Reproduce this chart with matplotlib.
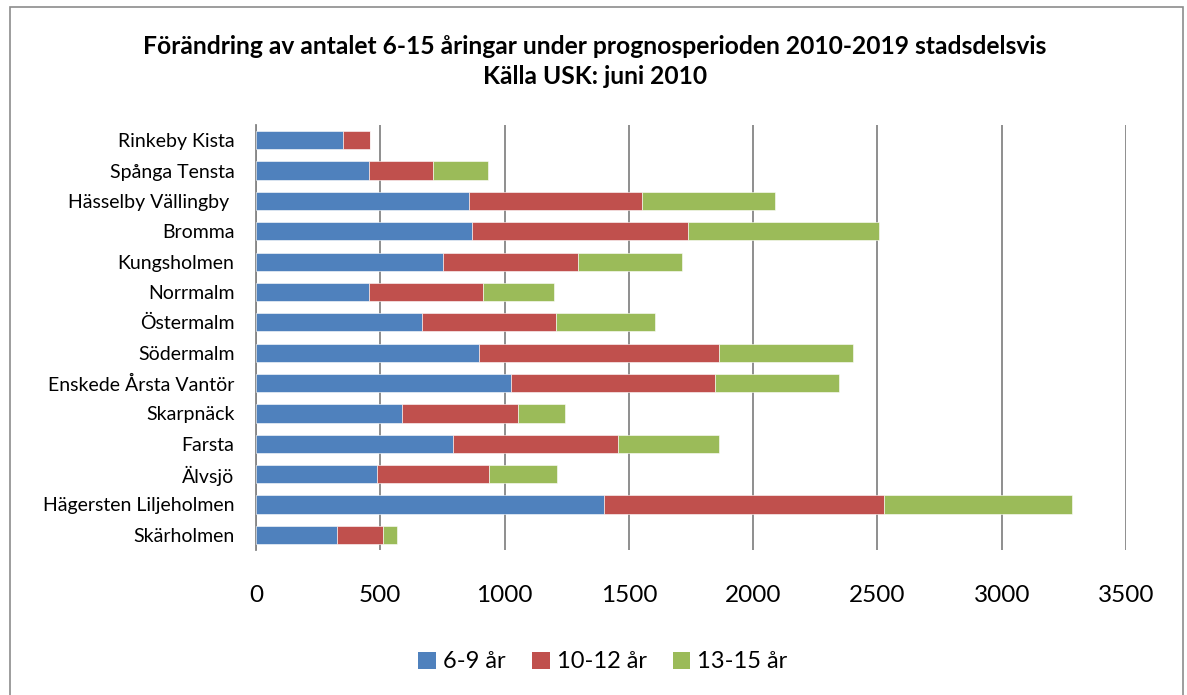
import matplotlib
matplotlib.use("Agg")
import matplotlib.pyplot as plt
from matplotlib.patches import Rectangle, Patch

plt.rcParams['font.family'] = ['Lato', 'DejaVu Sans']

categories = ["Rinkeby Kista", "Spånga Tensta", "Hässelby Vällingby ", "Bromma",
              "Kungsholmen", "Norrmalm", "Östermalm", "Södermalm",
              "Enskede Årsta Vantör", "Skarpnäck", "Farsta", "Älvsjö",
              "Hägersten Liljeholmen", "Skärholmen"]
age_6_9 = [348, 455, 857, 867, 754, 456, 667, 898, 1025, 587, 792, 486, 1400, 325]
age_10_12 = [112, 257, 694, 871, 543, 458, 541, 963, 821, 467, 663, 452, 1126, 185]
age_13_15 = [0, 222, 538, 767, 418, 284, 397, 541, 501, 189, 408, 271, 757, 57]
series_names = ["6-9 år", "10-12 år", "13-15 år"]
colors = ["#4F81BD", "#C0504D", "#9BBB59"]
xticks = [0, 500, 1000, 1500, 2000, 2500, 3000, 3500]

W, H = 1187, 695
fig = plt.figure(figsize=(W / 100, H / 100), dpi=100)
fig.patch.set_facecolor("white")

# outer chart frame
fig.add_artist(Rectangle((10 / W, -0.05), (1183 - 10) / W, 1.05 - 7 / H,
                         transform=fig.transFigure, fill=False,
                         edgecolor="#8C8C8C", linewidth=1.2))

ax = fig.add_axes([256 / W, 1 - 550 / H, (1126 - 256) / W, (550 - 125) / H])
y = list(range(len(categories)))
left = [0] * len(categories)
for vals, col, name in zip([age_6_9, age_10_12, age_13_15], colors, series_names):
    ax.barh(y, vals, left=left, height=0.6, color=col, edgecolor="white",
            linewidth=0.4, label=name, zorder=3)
    left = [a + b for a, b in zip(left, vals)]

ax.set_xlim(0, 3500)
ax.set_ylim(len(categories) - 0.5, -0.5)
ax.set_xticks(xticks)
ax.set_xticklabels([str(t) for t in xticks])
ax.set_yticks(y)
ax.set_yticklabels(categories)
ax.grid(axis="x", color="#868686", linewidth=1.3, zorder=0)
for s in ["top", "right", "bottom"]:
    ax.spines[s].set_visible(False)
ax.spines["left"].set_color("#868686")
ax.spines["left"].set_linewidth(1.3)
ax.tick_params(axis="x", length=0, labelsize=17.5, pad=25)
ax.tick_params(axis="y", length=0, labelsize=14, pad=15.5)

fig.text(595 / W, 1 - 47 / H,
         "Förändring av antalet 6-15 åringar under prognosperioden 2010-2019 stadsdelsvis",
         ha="center", va="center", fontsize=17.7, fontweight="bold")
fig.text(595 / W, 1 - 77 / H, "Källa USK: juni 2010",
         ha="center", va="center", fontsize=17.7, fontweight="bold")

handles = [Patch(facecolor=c, edgecolor="none") for c in colors]
fig.legend(handles, series_names, loc="center", bbox_to_anchor=(603 / W, 1 - 662 / H),
           ncol=3, frameon=False, fontsize=17, handlelength=0.75, handleheight=0.75,
           handletextpad=0.3, columnspacing=1.1)

fig.savefig("out.png", dpi=100)
